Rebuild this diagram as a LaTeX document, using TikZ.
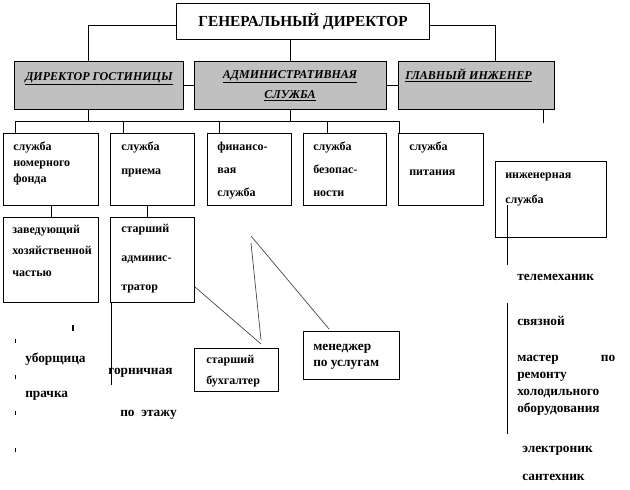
\documentclass[tikz,border=0pt]{standalone}
\usepackage{fontspec}
\setmainfont{Liberation Serif}
\definecolor{boxgray}{RGB}{192,192,192}

\begin{document}
\begin{tikzpicture}[x=0.75pt, y=-0.75pt,
    box/.style 2 args={draw, line width=0.75pt, anchor=north west, inner sep=0pt, minimum width=#1*0.75pt, minimum height=#2*0.75pt},
    gbox/.style 2 args={box={#1}{#2}, fill=boxgray},
    gtxt/.style={anchor=base west, inner sep=0pt, font=\bfseries\itshape\fontsize{9}{15}\selectfont},
    txt/.style={anchor=base west, align=left, inner sep=0pt, font=\bfseries\fontsize{9}{#1}\selectfont},
    free/.style={anchor=base west, inner sep=0pt, font=\bfseries\fontsize{10}{12}\selectfont},
    line/.style={line width=0.75pt},
    thin/.style={line width=0.5pt, draw=black!75}
  ]
  \useasboundingbox (0,0) rectangle (630,489);

  % top level
  \node[box={253}{36}, font=\bfseries\fontsize{11.5}{14}\selectfont] (gd) at (176,3) {ГЕНЕРАЛЬНЫЙ ДИРЕКТОР};
  \node[gbox={169}{48}] (g1) at (14,61) {};
  \node[gbox={192}{48}] (g2) at (194,61) {};
  \node[gbox={156}{48}] (g3) at (398,61) {};
  \node[gtxt] (g1t) at (25,80) {\underline{ДИРЕКТОР ГОСТИНИЦЫ}};
  \node[gtxt, anchor=base, align=center] (g2t) at (290,98) {\underline{АДМИНИСТРАТИВНАЯ}\\\underline{СЛУЖБА}};
  \node[gtxt] (g3t) at (405,79) {\underline{ГЛАВНЫЙ ИНЖЕНЕР}};

  % services (text placed by the baseline of its last line)
  \node[box={95}{72}] (b1) at (3,133) {};
  \node[box={84}{72}] (b2) at (110,133) {};
  \node[box={84}{72}] (b3) at (207,133) {};
  \node[box={83}{72}] (b4) at (303,133) {};
  \node[box={85}{72}] (b5) at (398,133) {};
  \node[box={111}{76}] (eng) at (495,161) {};
  \node[box={95}{85}] (r1) at (3,217) {};
  \node[box={84}{85}] (r2) at (110,217) {};
  \node[box={84}{43}] (buh) at (194,348) {};
  \node[box={96}{48}] (men) at (303,331) {};

  \node[txt=12pt] (b1t) at (13,182) {служба\\номерного\\фонда};
  \node[txt=18pt] (b2t) at (121,174) {служба\\приема};
  \node[txt=17pt] (b3t) at (217,196) {финансо-\\вая\\служба};
  \node[txt=17pt] (b4t) at (313,196) {служба\\безопас-\\ности};
  \node[txt=18.75pt] (b5t) at (409,175) {служба\\питания};
  \node[txt=18.75pt] (engt) at (505,203) {инженерная\\служба};
  \node[txt=16pt] (r1t) at (12,276) {заведующий\\хозяйственной\\частью};
  \node[txt=21.4pt] (r2t) at (121,290) {старший\\админис-\\тратор};
  \node[txt=15.75pt] (buht) at (206,384) {старший\\бухгалтер};
  \node[txt, font=\bfseries\fontsize{10}{12}\selectfont] (ment) at (313,366) {менеджер\\по услугам};

  % staff
  \node[free] (ubor) at (25,362) {уборщица};
  \node[free] (prach) at (25,397) {прачка};
  \node[free] (gorn) at (108,374) {горничная};
  \node[free] (etazh) at (120,416) {по \ этажу};
  \node[free] (telem) at (517,280) {телемеханик};
  \node[free] (svyaz) at (517,325) {связной};
  \node[free, text width=73.5pt, align=left, font=\bfseries\fontsize{10}{12.75}\selectfont] (master) at (517,361) {мастер\hfill по\\ремонту\\холодильного\\оборудования};
  \node[free] (elektr) at (522,452) {электроник};
  \node[free] (santeh) at (522,480) {сантехник};

  % connectors
  \coordinate (busL) at (15,121);
  \coordinate (busR) at (399,121);
  \draw[line] (gd.west |- 0,25) -| (g1.north -| 88,0);
  \draw[line] (gd.east |- 0,25) -| (g3.north -| 495,0);
  \draw[line] (gd.south -| g2.north) -- (g2.north);
  \draw[line] (g1.east) -- (g2.west);
  \draw[line] (g2.east) -- (g3.west);
  \draw[line] (g3.south -| 543,0) -- ++(0,13);
  \draw[line] (g1.south -| 88,0) -- (busL -| 88,0);
  \draw[line] (g2.south) -- (busL -| g2.south);
  \draw[line] (b1.north -| busL) -- (busL) -- (busR) -- (b5.north -| busR);
  \foreach \x/\n in {123/b2, 219/b3, 327/b4}
    \draw[line] (busL -| \x,0) -- (\n.north -| \x,0);
  \draw[line] (b1.south -| 51,0) -- (r1.north -| 51,0);
  \draw[line] (b2.south -| 147,0) -- (r2.north -| 147,0);
  \draw[line] (r2.south -| 111,0) -- (111,385);
  \draw[line] (507,205) -- (507,265);
  \draw[line] (507,303) -- (507,434);
  \foreach \y in {339,375,411,448}
    \draw[line] (15,\y) -- ++(0,4);
  \draw[line width=1.2pt] (73,325) -- (73,331);
  \draw[thin] (r2.east |- 0,287) -- (261,344);
  \draw[thin] (251,243) -- (261,340);
  \draw[thin] (251,236) -- (329,329);
\end{tikzpicture}
\end{document}
